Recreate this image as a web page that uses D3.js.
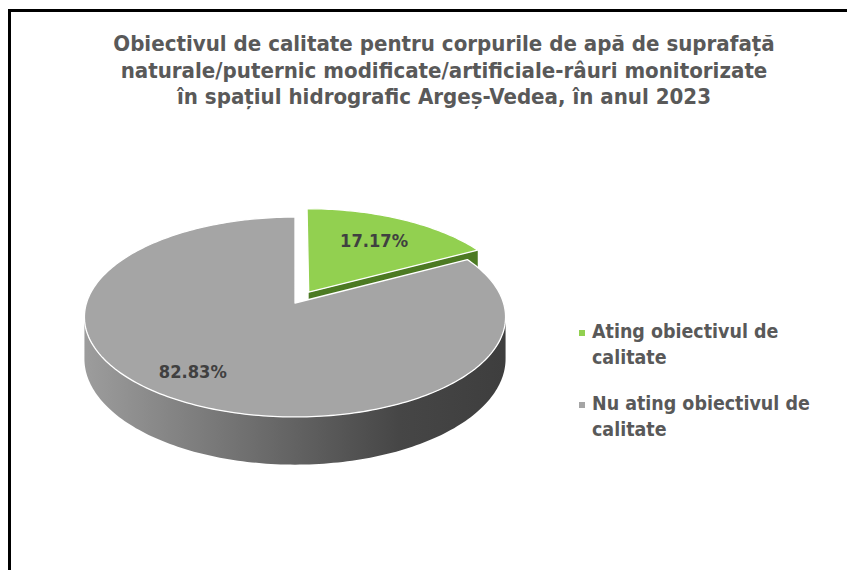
<!DOCTYPE html>
<html>
<head>
<meta charset="utf-8">
<script src="https://cdn.jsdelivr.net/npm/d3@7"></script>
<style>
  body { margin: 0; background: #fff; }
  svg { display: block; }
</style>
</head>
<body>
<svg id="chart" width="847" height="570"></svg>
<script>
// data
var categories = ["Ating obiectivul de calitate", "Nu ating obiectivul de calitate"];
var values = [17.17, 82.83];
var valueLabels = ["17.17%", "82.83%"];
var titleLines = [
  "Obiectivul de calitate pentru corpurile de apă de suprafață",
  "naturale/puternic modificate/artificiale-râuri monitorizate",
  "în spațiul hidrografic Argeș-Vedea, în anul 2023"
];
var topColors = ["#92d050", "#a5a5a5"];
var wallColors = ["#4c7a23", "#5a5a5a"];
var explode = [0.13, 0];

var dims = { width: 847, height: 570 };
// 3d pie geometry (perspective-ish tilt)
var pie3d = { cx: 295, cy: 303, rx: 208.5, ry: 98, k: 0.14, depth: 41 };
var fontFam = "'DejaVu Sans Condensed', 'DejaVu Sans', sans-serif";

var svg = d3.select("#chart");

svg.append("rect")
   .attr("x", 9.5).attr("y", 10.5)
   .attr("width", 900).attr("height", 600)
   .attr("fill", "none")
   .attr("stroke", "#000")
   .attr("stroke-width", 3);

// title
var title = svg.append("g")
   .attr("font-family", fontFam)
   .attr("font-weight", "bold")
   .attr("fill", "#595959")
   .attr("text-anchor", "middle");
var titleText = title.selectAll("text")
   .data(titleLines)
   .enter()
   .append("text")
   .attr("x", 444)
   .attr("y", (d, i) => 51 + i * 26.5)
   .attr("font-size", 20)
   .text(d => d);
// fit first line to width seen in the picture
var w0 = titleText.node().getComputedTextLength();
titleText.attr("font-size", 20 * 662 / w0);

var defs = svg.append("defs");
var grad = defs.append("linearGradient")
   .attr("id", "graySide")
   .attr("gradientUnits", "userSpaceOnUse")
   .attr("x1", pie3d.cx - pie3d.rx).attr("x2", pie3d.cx + pie3d.rx)
   .attr("y1", 0).attr("y2", 0);
grad.selectAll("stop")
   .data([[0, "#9c9c9c"], [0.45, "#686868"], [0.75, "#464646"], [1, "#3e3e3e"]])
   .enter().append("stop")
   .attr("offset", d => d[0])
   .attr("stop-color", d => d[1]);
var sideFills = ["#4c7a23", "url(#graySide)"];

var pie = d3.pie().sort(null).value(d => d);
var arcs = pie(values).map(function(a, i) {
  var mid = (a.startAngle + a.endAngle) / 2;
  return {
    i: i,
    a0: a.startAngle,
    a1: a.endAngle,
    mid: mid,
    off: { u: explode[i] * Math.sin(mid), v: explode[i] * Math.cos(mid) }
  };
});

function proj(a, r, h, off) {
  var u = r * Math.sin(a) + off.u;
  var v = r * Math.cos(a) + off.v;
  var s = 1 / (1 + pie3d.k * v);
  return [pie3d.cx + pie3d.rx * u * s, pie3d.cy - pie3d.ry * v * s + pie3d.depth * h * s];
}

function samples(a0, a1) {
  var n = Math.max(2, Math.ceil((a1 - a0) / 0.02));
  return d3.range(n + 1).map(j => a0 + (a1 - a0) * j / n);
}

var line = d3.line().curve(d3.curveLinear);

// far slices first
var order = arcs.slice().sort((p, q) => Math.cos(q.mid) - Math.cos(p.mid));

var slices = svg.append("g");
order.forEach(function(d) {
  var g = slices.append("g");
  // radial walls facing the viewer
  var walls = [];
  if (Math.sin(d.a1) > 1e-6) walls.push(d.a1);
  if (Math.sin(d.a0) < -1e-6) walls.push(d.a0);
  walls.forEach(function(a) {
    var pts = [proj(a, 0, 0, d.off), proj(a, 1, 0, d.off), proj(a, 1, 1, d.off), proj(a, 0, 1, d.off)];
    g.append("path")
     .attr("d", line(pts) + "Z")
     .attr("fill", wallColors[d.i]);
  });
  // outer wall, front part only
  var sL = Math.PI / 2 + Math.asin(pie3d.k), sR = 3 * Math.PI / 2 - Math.asin(pie3d.k);
  var b0 = Math.max(d.a0, sL), b1 = Math.min(d.a1, sR);
  if (b1 > b0) {
    var angs = samples(b0, b1);
    var pts = angs.map(a => proj(a, 1, 0, d.off))
                  .concat(angs.slice().reverse().map(a => proj(a, 1, 1, d.off)));
    g.append("path")
     .attr("d", line(pts) + "Z")
     .attr("fill", sideFills[d.i]);
  }
  // top face
  var top = [proj(0, 0, 0, d.off)].concat(samples(d.a0, d.a1).map(a => proj(a, 1, 0, d.off)));
  g.append("path")
   .attr("d", line(top) + "Z")
   .attr("fill", topColors[d.i])
   .attr("stroke", "#fff")
   .attr("stroke-width", 1.3)
   .attr("stroke-linejoin", "round");
});

// data labels
var labelR = 0.72;
var lab = svg.append("g")
   .selectAll("text")
   .data(arcs)
   .enter()
   .append("text")
   .attr("x", d => proj(d.mid + (d.i ? 0.07 : 0), labelR + (d.i ? 0.06 : -0.04), 0, d.off)[0])
   .attr("y", d => proj(d.mid + (d.i ? 0.07 : 0), labelR + (d.i ? 0.06 : -0.04), 0, d.off)[1])
   .attr("dy", "0.35em")
   .attr("text-anchor", "middle")
   .attr("font-family", fontFam)
   .attr("font-weight", "bold")
   .attr("font-size", 18)
   .attr("fill", "#404040")
   .text(d => valueLabels[d.i]);
var lw = lab.node().getComputedTextLength();
lab.attr("font-size", 18 * 68 / lw);

// legend
var legend = svg.append("g")
   .attr("font-family", fontFam)
   .attr("font-weight", "bold")
   .attr("fill", "#595959");

var legendFont = 18;
var probe = legend.append("text").attr("font-size", legendFont).text("Nu ating obiectivul de");
legendFont = legendFont * 218 / probe.node().getComputedTextLength();
probe.remove();

var entries = legend.selectAll("g")
   .data(categories)
   .enter()
   .append("g")
   .attr("transform", (d, i) => `translate(579, ${338 + i * 72})`);

entries.append("rect")
   .attr("x", 0).attr("y", -8)
   .attr("width", 6).attr("height", 6)
   .attr("fill", (d, i) => topColors[i]);

entries.each(function(d) {
  // wrap before the last word
  var words = d.split(" ");
  var first = words.slice(0, -1).join(" "), second = words[words.length - 1];
  var t = d3.select(this).append("text")
     .attr("x", 13)
     .attr("font-size", legendFont);
  t.append("tspan").attr("x", 13).attr("y", 0).text(first);
  t.append("tspan").attr("x", 13).attr("y", 26).text(second);
});
</script>
</body>
</html>
